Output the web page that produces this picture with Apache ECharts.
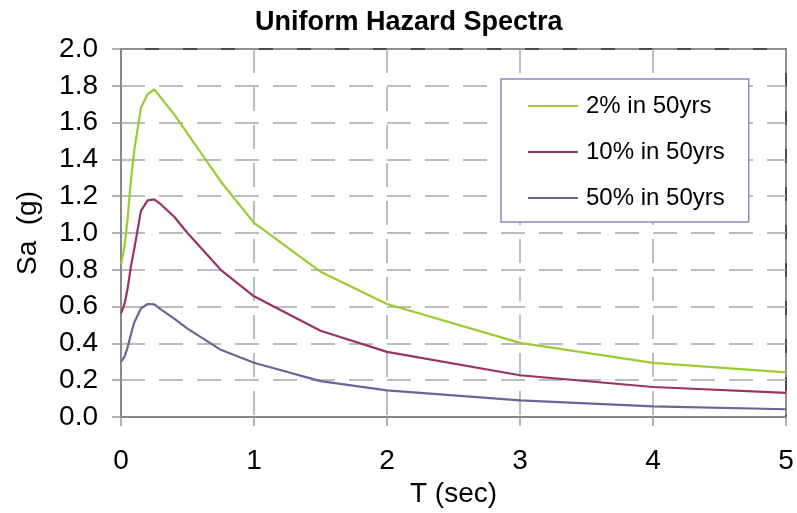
<!DOCTYPE html>
<html>
<head>
<meta charset="utf-8">
<script src="https://cdn.jsdelivr.net/npm/echarts@6/dist/echarts.min.js"></script>
<style>
  html, body { margin: 0; padding: 0; background: #fff; }
  #chart { width: 797px; height: 513px; }
</style>
</head>
<body>
<div id="chart"></div>
<script>
// Spectral periods (s) and spectral accelerations (g) for each hazard level
const periods = [0, 0.02, 0.03, 0.05, 0.075, 0.1, 0.15, 0.2, 0.25, 0.3, 0.4, 0.5, 0.75, 1.0, 1.5, 2.0, 3.0, 4.0, 5.0];
const sa2in50  = [0.83, 0.90, 0.95, 1.08, 1.29, 1.45, 1.68, 1.755, 1.78, 1.735, 1.645, 1.54, 1.28, 1.055, 0.79, 0.614, 0.403, 0.294, 0.242];
const sa10in50 = [0.563, 0.60, 0.625, 0.70, 0.82, 0.915, 1.12, 1.177, 1.183, 1.155, 1.088, 1.0, 0.80, 0.656, 0.469, 0.354, 0.227, 0.163, 0.131];
const sa50in50 = [0.30, 0.32, 0.335, 0.38, 0.45, 0.515, 0.59, 0.614, 0.612, 0.585, 0.535, 0.48, 0.365, 0.295, 0.195, 0.145, 0.09, 0.058, 0.042];
const seriesNames = ['2% in 50yrs', '10% in 50yrs', '50% in 50yrs'];
const seriesColors = ['#99cc33', '#993366', '#666699'];

const pairs = (ys) => periods.map((t, i) => [t, ys[i]]);
const font = 'Liberation Sans, Arial, sans-serif';

const chart = echarts.init(document.getElementById('chart'), null, { renderer: 'canvas' });

const gridLine = { show: true, lineStyle: { color: '#a8a8a8', width: 1.5, type: [24, 14] } };

chart.setOption({
  animation: false,
  backgroundColor: '#ffffff',
  title: {
    text: 'Uniform Hazard Spectra',
    left: 250,
    top: 4,
    textStyle: { fontFamily: font, fontSize: 27, fontWeight: 'bold', color: '#000' }
  },
  legend: {
    orient: 'vertical',
    left: 501,
    top: 79,
    padding: [15, 24, 12, 27],
    itemGap: 22,
    itemWidth: 50,
    itemHeight: 2,
    icon: 'rect',
    backgroundColor: '#ffffff',
    borderColor: '#8c8cc0',
    borderWidth: 1.5,
    textStyle: { fontFamily: font, fontSize: 24, color: '#000', lineHeight: 24, padding: [0, 0, 0, 3] },
    data: seriesNames
  },
  grid: {
    left: 121, right: 11, top: 49, bottom: 96,
    show: true, borderColor: '#111', borderWidth: 1.5, backgroundColor: 'transparent'
  },
  xAxis: {
    type: 'value', min: 0, max: 5, interval: 1,
    name: 'T (sec)', nameLocation: 'middle', nameGap: 63,
    nameTextStyle: { fontFamily: font, fontSize: 28, color: '#000' },
    axisLine: { show: true, lineStyle: { color: '#888', width: 2 } },
    axisTick: { show: true, inside: false, length: 9, lineStyle: { color: '#999', width: 1.5 } },
    axisLabel: { margin: 30, fontFamily: font, fontSize: 28, color: '#000' },
    splitLine: gridLine
  },
  yAxis: {
    type: 'value', min: 0, max: 2, interval: 0.2,
    name: 'Sa  (g)', nameLocation: 'middle', nameGap: 79, nameRotate: 90,
    nameTextStyle: { fontFamily: font, fontSize: 28, color: '#000' },
    axisLine: { show: true, lineStyle: { color: '#888', width: 2 } },
    axisTick: { show: true, inside: false, length: 9, lineStyle: { color: '#999', width: 1.5 } },
    axisLabel: { margin: 23, fontFamily: font, fontSize: 28, color: '#000', formatter: v => v.toFixed(1) },
    splitLine: gridLine
  },
  series: [sa2in50, sa10in50, sa50in50].map((ys, i) => ({
    name: seriesNames[i],
    type: 'line',
    data: pairs(ys),
    symbol: 'none',
    smooth: false,
    color: seriesColors[i],
    lineStyle: { color: seriesColors[i], width: 2.2 }
  }))
});
</script>
</body>
</html>
